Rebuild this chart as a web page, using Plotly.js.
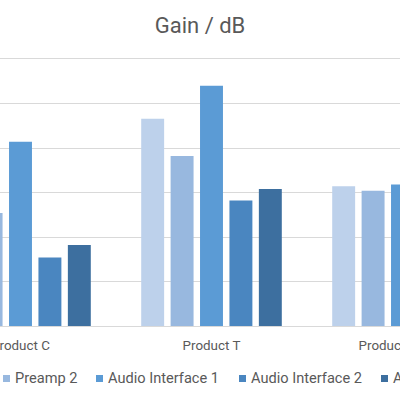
<!DOCTYPE html>
<html>
<head>
<meta charset="utf-8">
<script src="https://cdn.plot.ly/plotly-3.0.1.min.js"></script>
<style>
  html, body { margin: 0; padding: 0; width: 400px; height: 400px; overflow: hidden; background: #fff; }
  #wrap { position: relative; width: 400px; height: 400px; overflow: hidden; }
  #chart { position: absolute; left: -100px; top: 0; width: 600px; height: 400px; }
</style>
</head>
<body>
<div id="wrap"><div id="chart"></div></div>
<script>
// Gain per product for each device (dB)
const products = ["Product C", "Product T", "Product X Plus"];
const seriesNames = ["Preamp 1", "Preamp 2", "Audio Interface 1", "Audio Interface 2", "Audio Interface 3"];
const preamp1 = [11.5, 23.3, 15.7];
const preamp2 = [12.7, 19.1, 15.2];
const audioInterface1 = [20.7, 27.0, 15.9];
const audioInterface2 = [7.7, 14.1, 13.0];
const audioInterface3 = [9.1, 15.4, 14.0];
const seriesValues = [preamp1, preamp2, audioInterface1, audioInterface2, audioInterface3];
const seriesColors = ["#bdd1eb", "#98b8df", "#5b9bd5", "#4a86c0", "#3d6f9f"];

// y-axis grid values
const yTicks = [0, 5, 10, 15, 20, 25, 30];

const textColor = "#595959";
const fontFamily = "Roboto, 'Noto Sans', sans-serif";

const traces = seriesNames.map((name, i) => ({
  type: "bar",
  name: name,
  x: products,
  y: seriesValues[i],
  marker: { color: seriesColors[i] },
  showlegend: false,
  hoverinfo: "x+y+name"
}));

// Legend row below the axis: a small square swatch followed by the label.
// Offsets are pixels from the left edge of the plot area.
const legendOffsets = [-15, 78, 171, 314, 456];
const legendShapes = [];
const legendLabels = [];
seriesNames.forEach((name, i) => {
  const x = legendOffsets[i];
  legendShapes.push({
    type: "rect", xref: "paper", yref: "paper",
    xsizemode: "pixel", ysizemode: "pixel",
    xanchor: 0, yanchor: 0,
    x0: x, x1: x + 7, y0: -56, y1: -49,
    fillcolor: seriesColors[i], line: { width: 0 }
  });
  legendLabels.push({
    xref: "paper", yref: "paper", x: 0, y: 0,
    xshift: x + 10, yshift: -52,
    xanchor: "left", yanchor: "middle",
    text: name, showarrow: false,
    font: { family: fontFamily, size: 14.6, color: textColor }
  });
});

const layout = {
  width: 600,
  height: 400,
  margin: { l: 25, r: 2, t: 59, b: 74, pad: 0 },
  paper_bgcolor: "#ffffff",
  plot_bgcolor: "#ffffff",
  font: { family: fontFamily, color: textColor },
  title: {
    text: "Gain / dB",
    x: 0.5, xref: "container", xanchor: "center",
    y: 1 - 25.5 / 400, yref: "container", yanchor: "middle",
    font: { family: fontFamily, size: 22, color: textColor }
  },
  barmode: "group",
  bargap: 0.23,
  bargroupgap: 0.22,
  xaxis: {
    type: "category",
    showgrid: false,
    showline: true,
    mirror: true,
    linecolor: "#d9d9d9",
    linewidth: 1,
    ticks: "",
    ticklabelstandoff: 7,
    tickfont: { family: fontFamily, size: 13.4, color: textColor },
    fixedrange: true
  },
  yaxis: {
    range: [0, 30],
    tickvals: yTicks,
    showgrid: true,
    gridcolor: "#d9d9d9",
    gridwidth: 1,
    zeroline: false,
    showline: false,
    ticks: "",
    showticklabels: false,
    fixedrange: true
  },
  showlegend: false,
  shapes: legendShapes,
  annotations: legendLabels
};

Plotly.newPlot("chart", traces, layout, { displayModeBar: false, staticPlot: true });
</script>
</body>
</html>
